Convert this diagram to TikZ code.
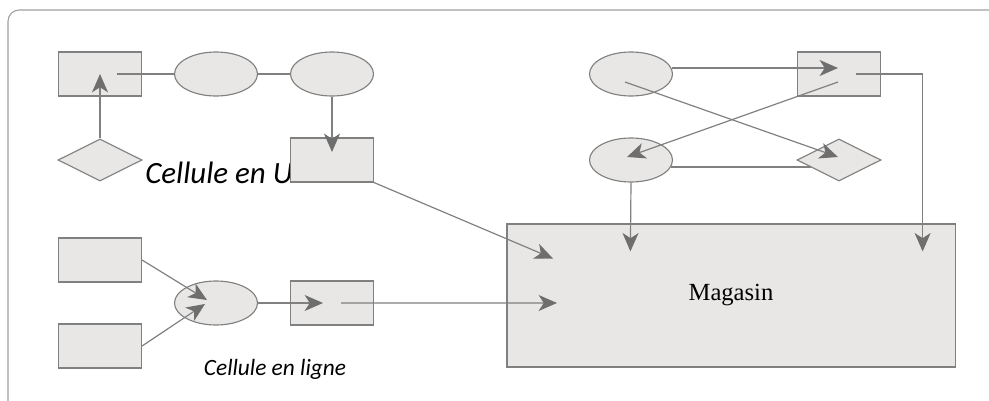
\documentclass[tikz,border=0pt]{standalone}
\usepackage{fontspec}
\newfontfamily\cellfont{Carlito}
\newfontfamily\storefont{Liberation Serif}
\usepackage{tikz}
\usetikzlibrary{arrows.meta, calc, shapes.geometric}
\definecolor{boxGray}{HTML}{E8E7E6}
\definecolor{lineGray}{HTML}{808080}
\definecolor{tipGray}{HTML}{6E6E6E}
\definecolor{frameGray}{HTML}{A0A0A0}

\begin{document}
\begin{tikzpicture}[x=0.025cm, y=-0.025cm,
	poste/.style={draw=lineGray, fill=boxGray, line width=0.8pt, inner sep=0pt},
	box/.style={poste, rectangle, minimum width=2.075cm, minimum height=1.1cm},
	oval/.style={poste, ellipse, minimum width=2.075cm, minimum height=1.1cm},
	losange/.style={poste, diamond, aspect=2, minimum width=2.1cm, minimum height=1.05cm},
	link/.style={draw=lineGray, line width=0.85pt},
	flow/.style={link, -{Stealth[length=0.46cm, width=0.4cm, inset=0.13cm, color=tipGray]}}]

	\useasboundingbox (0,0) rectangle (989,401);
	\draw[frameGray, line width=0.8pt, rounded corners=8] (8,401) -- (8,10) -- (989,10);

	% cellule en U
	\node[anchor=base west, inner sep=0pt] (tU) at (145,183) {\cellfont\itshape\fontsize{22}{26}\selectfont Cellule en U};
	\node[box] (r1) at (100,74) {};
	\node[oval] (e1) at (216,74) {};
	\node[oval] (e2) at (332,74) {};
	\node[losange] (d1) at (100,160) {};
	\node[box] (r2) at (332,160) {};

	% cellule en ligne
	\node[box] (r3) at (100,260) {};
	\node[box] (r4) at (100,346) {};
	\node[oval] (e3) at (216,303) {};
	\node[box] (r5) at (332,303) {};
	\node[anchor=base, inner sep=0pt] (tL) at (275,375) {\cellfont\itshape\fontsize{16.6}{20}\selectfont Cellule en ligne};

	% magasin
	\node[poste, rectangle, minimum width=11.2cm, minimum height=3.575cm] (mag) at (731,295.5) {\storefont\fontsize{17.5}{20}\selectfont Magasin};

	% ilot en haut a droite
	\node[oval] (e4) at (631,74) {};
	\node[box] (r6) at (839,74) {};
	\node[oval] (e5) at (631,160) {};
	\node[losange] (d2) at (839,160) {};

	\draw[link] ($(r1)+(17,0)$) -- (e1.west);
	\draw[link] (e1.east) -- (e2.west);
	\draw[flow] (d1.north) -- (r1.center);
	\draw[flow] (e2.south) -- ($(r2)+(0,-8)$);
	\draw[flow] (r2.south east) -- ($(mag)+(-178,-37)$);

	\draw[flow] (r3.east) -- ($(e3)+(-9,-3)$);
	\draw[flow] (r4.east) -- ($(e3)+(-11,1)$);
	\draw[flow] (e3.east) -- ($(r5)+(-9,0)$);
	\draw[flow] ($(r5)+(9,0)$) -- ($(mag)+(-174,7.5)$);

	\draw[flow] ($(e4.east)+(-1,-6)$) -- ($(r6)+(-1,-6)$);
	\draw[flow] ($(r6)+(17,0)$) -| ($(mag.north east)+(-33,28)$);
	\draw[flow] ($(e4)+(-6,8)$) -- ($(d2)+(-1,-3)$);
	\draw[flow] ($(r6)+(-1,8)$) -- ($(e5)+(-4,-3)$);
	\draw[link] ($(e5.east)+(-2,7)$) -- ($(d2)+(-28,7)$);
	\draw[flow] (e5.south) -- ($(mag.north west)+(124,28)$);

\end{tikzpicture}
\end{document}
